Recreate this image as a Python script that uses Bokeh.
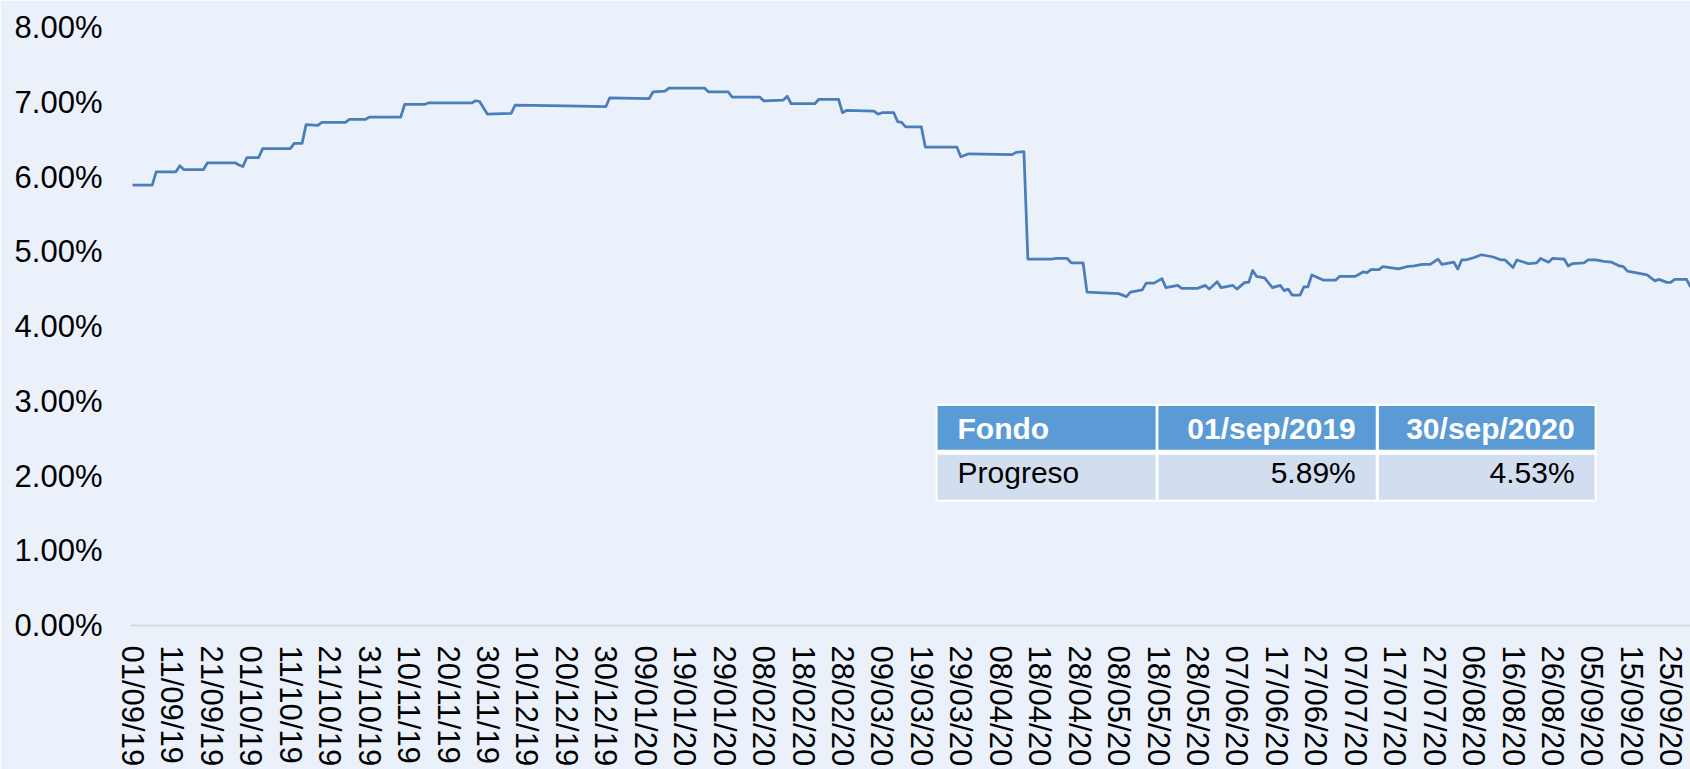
from bokeh.plotting import figure
from bokeh.models import ColumnDataSource, Range1d, FixedTicker, BoxAnnotation, Label
from bokeh.embed import file_html
from bokeh.resources import INLINE

# ---- data (day offset from 01/09/2019, yield in %) ----
days = [0, 5, 6, 11, 12, 13, 18, 19, 26, 27, 28, 29, 32, 33, 40, 41, 43, 44, 47, 48,
        54, 55, 59, 60, 68, 69, 74, 75, 86, 87, 88, 90, 96, 97, 110, 120, 121, 131, 132, 135,
        136, 145, 146, 151, 152, 159, 160, 165, 166, 167, 173, 174, 179, 180, 181, 188, 189, 190, 193, 194,
        195, 196, 200, 201, 209, 210, 212, 223, 224, 226, 227, 233, 234, 237, 238, 241, 242, 250, 252, 253,
        256, 257, 259, 261, 262, 265, 266, 270, 272, 273, 275, 276, 279, 280, 282, 283, 284, 285, 287, 289,
        291, 292, 293, 294, 296, 297, 298, 299, 302, 305, 306, 310, 312, 313, 314, 316, 317, 321, 323, 325,
        327, 329, 331, 332, 335, 336, 337, 338, 340, 342, 345, 347, 348, 350, 351, 354, 356, 357, 359, 360,
        363, 364, 365, 368, 369, 371, 373, 375, 377, 378, 379, 381, 384, 386, 387, 389, 390, 391, 394, 395]
values = [5.89, 5.89, 6.07, 6.07, 6.15, 6.10, 6.10, 6.19, 6.19, 6.16, 6.14, 6.26, 6.26, 6.38, 6.38, 6.45, 6.45, 6.70, 6.69, 6.73,
          6.73, 6.77, 6.77, 6.80, 6.80, 6.97, 6.97, 6.99, 6.99, 7.02, 7.01, 6.84, 6.85, 6.96, 6.95, 6.94, 7.06, 7.05, 7.14, 7.15,
          7.19, 7.19, 7.14, 7.14, 7.07, 7.07, 7.02, 7.03, 7.08, 6.98, 6.98, 7.04, 7.04, 6.86, 6.89, 6.88, 6.84, 6.86, 6.86, 6.74,
          6.73, 6.67, 6.67, 6.40, 6.40, 6.27, 6.31, 6.30, 6.33, 6.34, 4.90, 4.90, 4.91, 4.91, 4.85, 4.85, 4.46, 4.44, 4.40, 4.46,
          4.49, 4.58, 4.58, 4.64, 4.52, 4.55, 4.51, 4.51, 4.55, 4.50, 4.60, 4.52, 4.55, 4.50, 4.59, 4.59, 4.75, 4.67, 4.65, 4.52,
          4.55, 4.48, 4.50, 4.42, 4.42, 4.53, 4.53, 4.69, 4.62, 4.62, 4.67, 4.67, 4.73, 4.72, 4.76, 4.76, 4.80, 4.77, 4.80, 4.81,
          4.83, 4.83, 4.90, 4.83, 4.86, 4.77, 4.89, 4.89, 4.92, 4.96, 4.93, 4.89, 4.89, 4.79, 4.89, 4.84, 4.85, 4.91, 4.86, 4.91,
          4.90, 4.81, 4.84, 4.85, 4.89, 4.89, 4.87, 4.86, 4.81, 4.80, 4.74, 4.72, 4.69, 4.61, 4.63, 4.59, 4.59, 4.63, 4.63, 4.53]

x_tick_labels = ["01/09/19", "11/09/19", "21/09/19", "01/10/19", "11/10/19", "21/10/19", "31/10/19",
                 "10/11/19", "20/11/19", "30/11/19", "10/12/19", "20/12/19", "30/12/19", "09/01/20",
                 "19/01/20", "29/01/20", "08/02/20", "18/02/20", "28/02/20", "09/03/20", "19/03/20",
                 "29/03/20", "08/04/20", "18/04/20", "28/04/20", "08/05/20", "18/05/20", "28/05/20",
                 "07/06/20", "17/06/20", "27/06/20", "07/07/20", "17/07/20", "27/07/20", "06/08/20",
                 "16/08/20", "26/08/20", "05/09/20", "15/09/20", "25/09/20"]
y_ticks = [0, 1, 2, 3, 4, 5, 6, 7, 8]
y_tick_labels = ["0.00%", "1.00%", "2.00%", "3.00%", "4.00%", "5.00%", "6.00%", "7.00%", "8.00%"]

table_header = ["Fondo", "01/sep/2019", "30/sep/2020"]
table_row = ["Progreso", "5.89%", "4.53%"]

FONT = "Liberation Sans"
BG = "#EAF1FB"

x_ticks = [i * 10 for i in range(len(x_tick_labels))]

p = figure(width=1690, height=769, output_backend="svg", toolbar_location=None,
           x_range=Range1d(-0.507, 395.0), y_range=Range1d(0, 8),
           min_border_left=130, min_border_right=0, min_border_top=27, min_border_bottom=143)
p.background_fill_color = BG
p.border_fill_color = BG
p.outline_line_color = None
p.xgrid.grid_line_color = None
p.ygrid.grid_line_color = None

src = ColumnDataSource(dict(day=days, value=values))
p.line("day", "value", source=src, line_color="#4A7EBB", line_width=2.75, line_join="round")

# x axis
xa = p.xaxis[0]
xa.ticker = FixedTicker(ticks=x_ticks)
xa.major_label_overrides = {t: lab for t, lab in zip(x_ticks, x_tick_labels)}
xa.major_label_orientation = "vertical"
xa.major_label_text_font = FONT
xa.major_label_text_font_size = "31px"
xa.major_label_text_color = "#000000"
xa.major_label_standoff = 20
xa.major_tick_line_color = None
xa.minor_tick_line_color = None
xa.major_tick_out = 0
xa.major_tick_in = 0
xa.minor_tick_out = 0
xa.minor_tick_in = 0
xa.axis_line_color = "#D9D9D9"
xa.axis_line_width = 2

# y axis
ya = p.yaxis[0]
ya.ticker = FixedTicker(ticks=y_ticks)
ya.major_label_overrides = {t: lab for t, lab in zip(y_ticks, y_tick_labels)}
ya.major_label_text_font = FONT
ya.major_label_text_font_size = "31px"
ya.major_label_text_color = "#000000"
ya.major_label_standoff = 28
ya.major_tick_line_color = None
ya.minor_tick_line_color = None
ya.major_tick_out = 0
ya.major_tick_in = 0
ya.minor_tick_out = 0
ya.minor_tick_in = 0
ya.axis_line_color = None

# ---- summary table (positions in the plot's data space) ----
col_edges = [(204.1, 259.4), (260.1, 315.2), (316.0, 370.7)]
header_band = (2.351, 2.938)
row_band = (1.683, 2.284)
p.add_layout(BoxAnnotation(left=203.6, right=371.2, bottom=1.655, top=2.965,
                           fill_color="white", fill_alpha=1, line_color=None, level="overlay"))
for (l, r) in col_edges:
    p.add_layout(BoxAnnotation(left=l, right=r, bottom=header_band[0], top=header_band[1],
                               fill_color="#5B9BD5", fill_alpha=1, line_color=None, level="overlay"))
    p.add_layout(BoxAnnotation(left=l, right=r, bottom=row_band[0], top=row_band[1],
                               fill_color="#D2DEEF", fill_alpha=1, line_color=None, level="overlay"))

pad_left = 5.07
pad_right = 5.07
for i, (l, r) in enumerate(col_edges):
    if i == 0:
        xh, al = l + pad_left, "left"
    else:
        xh, al = r - pad_right, "right"
    p.add_layout(Label(x=xh, y=2.631, text=table_header[i], text_align=al, text_baseline="middle",
                       text_font=FONT, text_font_size="30px", text_font_style="bold",
                       text_color="white", level="overlay"))
    p.add_layout(Label(x=xh, y=2.043, text=table_row[i], text_align=al, text_baseline="middle",
                       text_font=FONT, text_font_size="30px",
                       text_color="#000000", level="overlay"))

open("out.html", "w").write(file_html(p, INLINE))
